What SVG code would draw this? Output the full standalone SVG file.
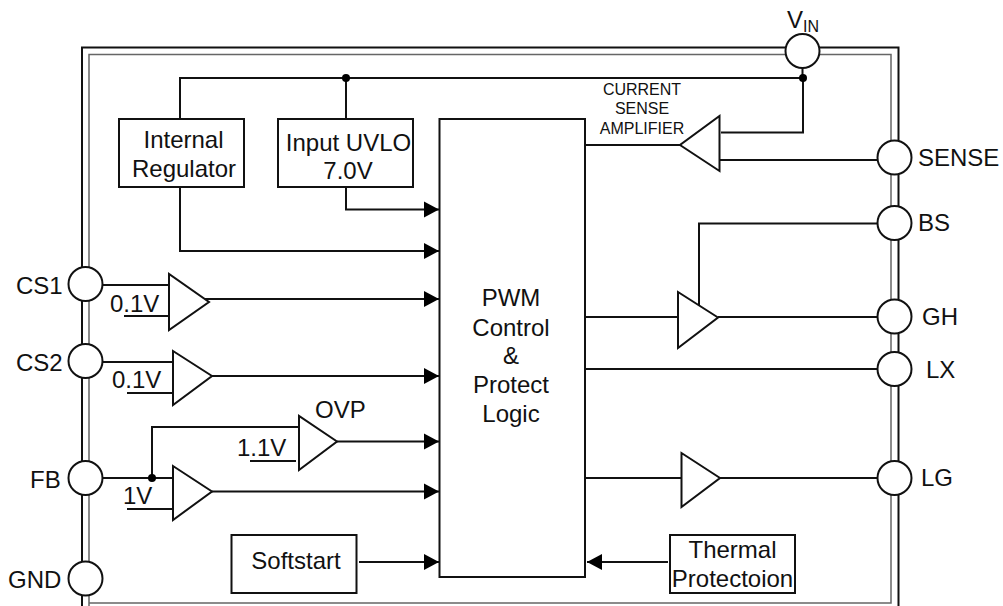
<svg xmlns="http://www.w3.org/2000/svg" width="1003" height="606" viewBox="0 0 1003 606">
<style>
text{font-family:"Liberation Sans",Arial,sans-serif;font-size:24px;fill:#111}
.m{text-anchor:middle}
.s{font-size:16px}
.b,.pin,.amp{fill:#fff;stroke:#111;stroke-width:2}
.w{fill:none;stroke:#111;stroke-width:2}
.a{marker-end:url(#arrow)}
.d{fill:#000}
</style>
<defs>
<marker id="arrow" markerUnits="userSpaceOnUse" markerWidth="16" markerHeight="18" refX="15" refY="8.5" orient="auto"><path d="M0 0.5L15 8.5L0 16.5Z" fill="#000"/></marker>
</defs>
<g id="package">
<path d="M82 606V47.5H898.5V606" fill="none" stroke="#111" stroke-width="2"/>
<path d="M89 606V54.5H891V603H89" fill="none" stroke="#666" stroke-width="1.5"/>
</g>
<g id="connectors">
<path class="w" d="M180 119V78H802.5V68"/>
<path class="w" d="M346 78V119"/>
<path class="w a" d="M346 187V209.5H439"/>
<path class="w a" d="M180 187V251H439"/>
<path class="w" d="M803 78V132.500H721"/>
<path class="w" d="M720 160H878"/>
<path class="w" d="M585 145H680"/>
<path class="w" d="M699 307V223.500H878"/>
<path class="w" d="M585 317H678"/>
<path class="w" d="M718 317H878"/>
<path class="w" d="M585 369H878"/>
<path class="w" d="M585 478H681"/>
<path class="w" d="M720 478H878"/>
<path class="w" d="M103 285H169"/>
<path class="w" d="M124 316H169"/>
<path class="w a" d="M205 299H439"/>
<path class="w" d="M103 362H173"/>
<path class="w" d="M127 393H173"/>
<path class="w a" d="M212 376H439"/>
<path class="w" d="M103 478H173"/>
<path class="w" d="M127 509H173"/>
<path class="w a" d="M212 491.500H439"/>
<path class="w" d="M152 478V427H299"/>
<path class="w" d="M250 461H296"/>
<path class="w a" d="M337 441.500H439"/>
<path class="w a" d="M359 562H439"/>
<path class="w a" d="M668 562H587"/>
<circle class="d" cx="346" cy="78" r="4"/>
<circle class="d" cx="803" cy="78" r="4"/>
<circle class="d" cx="152" cy="478" r="4"/>
</g>
<g id="internal-regulator"><rect class="b" x="119" y="119" width="125" height="68"/><text class="m" x="183.500" y="148">Internal</text><text class="m" x="184" y="177">Regulator</text></g>
<g id="input-uvlo"><rect class="b" x="278" y="119" width="135" height="68"/><text class="m" x="348.500" y="151">Input UVLO</text><text class="m" x="348" y="179">7.0V</text></g>
<g id="pwm-control"><rect class="b" x="439.500" y="119" width="145.500" height="458"/><text class="m" x="511" y="306">PWM</text><text class="m" x="511" y="336">Control</text><text class="m" x="511" y="364">&amp;</text><text class="m" x="511" y="393">Protect</text><text class="m" x="511" y="422">Logic</text></g>
<g id="softstart"><rect class="b" x="231.500" y="535" width="125" height="58"/><text class="m" x="296" y="569">Softstart</text></g>
<g id="thermal-protection"><rect class="b" x="670" y="535" width="125" height="58"/><text class="m" x="732.500" y="558">Thermal</text><text class="m" x="732.500" y="587">Protectoion</text></g>
<g id="current-sense-amplifier"><polygon class="amp" points="719.500,116 719.500,171 680,145"/><text class="m s" x="642" y="95">CURRENT</text><text class="m s" x="642" y="114">SENSE</text><text class="m s" x="642" y="134">AMPLIFIER</text></g>
<g id="amp-cs1"><polygon class="amp" points="169,274 169,330 209,302"/><text x="110" y="312">0.1V</text></g>
<g id="amp-cs2"><polygon class="amp" points="173,351 173,405 212,376"/><text x="112" y="388">0.1V</text></g>
<g id="amp-ovp"><polygon class="amp" points="299,416 299,470 337,441.500"/><text x="237" y="456">1.1V</text><text x="315" y="418">OVP</text></g>
<g id="amp-fb"><polygon class="amp" points="173,466 173,520 212,491.500"/><text x="123" y="504">1V</text></g>
<g id="amp-gh"><polygon class="amp" points="678,292 678,348 718,317.500"/></g>
<g id="amp-lg"><polygon class="amp" points="681.500,453 681.500,507 720,478"/></g>
<g id="pin-vin"><circle class="pin" cx="802.500" cy="51" r="17"/><text x="787" y="28">V<tspan font-size="16" dy="4">IN</tspan></text></g>
<g id="pin-sense"><circle class="pin" cx="894.500" cy="157.500" r="17"/><text x="918" y="166">SENSE</text></g>
<g id="pin-bs"><circle class="pin" cx="894.500" cy="223" r="17"/><text x="918" y="231">BS</text></g>
<g id="pin-gh"><circle class="pin" cx="894.500" cy="316.500" r="17"/><text x="922" y="325">GH</text></g>
<g id="pin-lx"><circle class="pin" cx="894.500" cy="369" r="17"/><text x="926" y="378">LX</text></g>
<g id="pin-lg"><circle class="pin" cx="894.500" cy="478" r="17"/><text x="921" y="486">LG</text></g>
<g id="pin-cs1"><circle class="pin" cx="85.500" cy="284" r="17"/><text x="16" y="294">CS1</text></g>
<g id="pin-cs2"><circle class="pin" cx="85.500" cy="361" r="17"/><text x="16" y="371">CS2</text></g>
<g id="pin-fb"><circle class="pin" cx="85.500" cy="478" r="17"/><text x="30" y="488">FB</text></g>
<g id="pin-gnd"><circle class="pin" cx="85.500" cy="578.500" r="17"/><text x="8" y="588">GND</text></g>
</svg>
